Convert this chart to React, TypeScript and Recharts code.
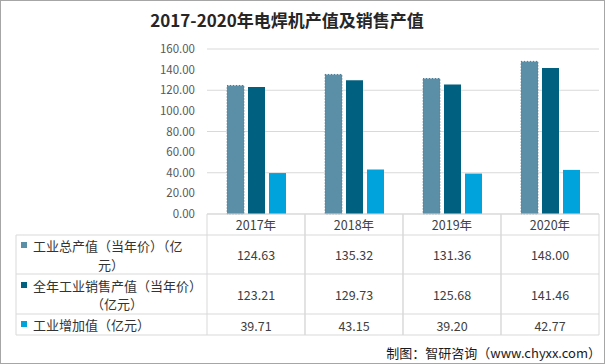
import { Bar, BarChart, CartesianGrid, XAxis, YAxis } from "recharts";

const years = ["2017年", "2018年", "2019年", "2020年"];
const grossOutput = [124.63, 135.32, 131.36, 148.0];
const salesOutput = [123.21, 129.73, 125.68, 141.46];
const addedValue = [39.71, 43.15, 39.2, 42.77];
const yTicks = [0, 20, 40, 60, 80, 100, 120, 140, 160];

const seriesNames = ["工业总产值（当年价）（亿元）", "全年工业销售产值（当年价）（亿元）", "工业增加值（亿元）"];
const colors = ["#5b8fa8", "#00607f", "#00a3db"];

const data = years.map((year, i) => ({
  year,
  gross: grossOutput[i],
  sales: salesOutput[i],
  added: addedValue[i],
}));
const seriesValues = [grossOutput, salesOutput, addedValue];

const WIDTH = 605;
const HEIGHT = 364;
const PLOT_LEFT = 207;
const PLOT_RIGHT = 599;
const PLOT_TOP = 49;
const PLOT_BOTTOM = 214;
const BAND = (PLOT_RIGHT - PLOT_LEFT) / years.length;
const TABLE_LEFT = 16;
// table row boundaries: header, three series rows
const rowLines = [214, 235, 274, 314, 335];
const FONT = "'Noto Sans CJK SC', 'Microsoft YaHei', sans-serif";
const GRID = "#d9d9d9";

// wrapped legend labels, as Excel wraps them in its data table
const labelLines = [
  [{ text: "工业总产值（当年价）（亿", y: 245, anchor: "start", x: 33 }, { text: "元）", y: 264, anchor: "middle", x: 111 }],
  [{ text: "全年工业销售产值（当年价）", y: 285, anchor: "start", x: 33 }, { text: "（亿元）", y: 303, anchor: "middle", x: 117 }],
  [{ text: "工业增加值（亿元）", y: 324, anchor: "start", x: 33 }],
];

function LeftColumn() {
  return (
    <g>
      {rowLines.slice(1).map((y) => (
        <line key={y} x1={TABLE_LEFT} x2={PLOT_RIGHT} y1={y} y2={y} stroke={GRID} />
      ))}
      <line x1={TABLE_LEFT} x2={TABLE_LEFT} y1={rowLines[1]} y2={rowLines[4]} stroke={GRID} />
      {labelLines.map((lines, r) => (
        <g key={r}>
          <rect x={21} y={lines[0].y - 3} width={6} height={6} fill={colors[r]} />
          {lines.map((l, k) => (
            <text
              key={k}
              x={l.x}
              y={l.y}
              textAnchor={l.anchor as "start" | "middle"}
              dominantBaseline="central"
              fontSize={13}
              fill="#333"
              fontFamily={FONT}
            >
              {l.text}
            </text>
          ))}
        </g>
      ))}
    </g>
  );
}

function TableColumn(props: any) {
  const { x, index, payload } = props;
  const left = x - BAND / 2;
  const right = x + BAND / 2;
  const rowCenters = [
    (rowLines[0] + rowLines[1]) / 2,
    (rowLines[1] + rowLines[2]) / 2,
    (rowLines[2] + rowLines[3]) / 2,
    (rowLines[3] + rowLines[4]) / 2 + 1,
  ];
  return (
    <g>
      {index === 0 && <LeftColumn />}
      <line x1={left} x2={left} y1={rowLines[0]} y2={rowLines[4]} stroke={GRID} />
      <line x1={right} x2={right} y1={rowLines[0]} y2={rowLines[4]} stroke={GRID} />
      <text x={x} y={rowCenters[0]} textAnchor="middle" dominantBaseline="central" fontSize={12.5} fill="#404040" fontFamily={FONT}>
        {payload.value}
      </text>
      {seriesValues.map((vals, r) => (
        <text
          key={r}
          x={x}
          y={rowCenters[r + 1]}
          textAnchor="middle"
          dominantBaseline="central"
          fontSize={12.5}
          fill="#404040"
          fontFamily={FONT}
        >
          {vals[index].toFixed(2)}
        </text>
      ))}
    </g>
  );
}

export default function App() {
  return (
    <div style={{ position: "absolute", left: 0, top: 0, width: WIDTH, height: HEIGHT, background: "#fff" }}>
      <div
        style={{
          position: "absolute",
          left: 0,
          top: 8,
          width: 574,
          textAlign: "center",
          fontFamily: FONT,
          fontWeight: 700,
          fontSize: 17,
          lineHeight: "24px",
          color: "#262626",
        }}
      >
        2017-2020年电焊机产值及销售产值
      </div>
      <BarChart
        width={WIDTH}
        height={HEIGHT}
        data={data}
        margin={{ top: PLOT_TOP, right: WIDTH - PLOT_RIGHT, bottom: 0, left: 0 }}
        barSize={17}
        barGap={4}
        style={{ position: "absolute", left: 0, top: 0 }}
      >
        <CartesianGrid vertical={false} stroke={GRID} />
        <XAxis
          dataKey="year"
          height={HEIGHT - PLOT_BOTTOM}
          axisLine={{ stroke: GRID }}
          tickLine={false}
          interval={0}
          tick={<TableColumn />}
        />
        <YAxis
          width={PLOT_LEFT}
          domain={[0, 160]}
          ticks={yTicks}
          axisLine={false}
          tickLine={false}
          tickMargin={6}
          tickFormatter={(v: number) => v.toFixed(2)}
          tick={{ fontSize: 11.5, fill: "#595959", fontFamily: FONT }}
        />
        <Bar dataKey="gross" name={seriesNames[0]} fill={colors[0]} stroke="#4a7a92" strokeDasharray="1 2" isAnimationActive={false} />
        <Bar dataKey="sales" name={seriesNames[1]} fill={colors[1]} isAnimationActive={false} />
        <Bar dataKey="added" name={seriesNames[2]} fill={colors[2]} isAnimationActive={false} />
      </BarChart>
      <div
        style={{
          position: "absolute",
          right: 4,
          top: 343,
          fontFamily: FONT,
          fontSize: 13,
          lineHeight: "20px",
          color: "#1a1a1a",
        }}
      >
        制图：智研咨询（www.chyxx.com）
      </div>
      <div
        style={{
          position: "absolute",
          left: 0,
          top: 0,
          width: WIDTH,
          height: HEIGHT,
          boxSizing: "border-box",
          border: "1px solid #a6a6a6",
          pointerEvents: "none",
        }}
      />
    </div>
  );
}
